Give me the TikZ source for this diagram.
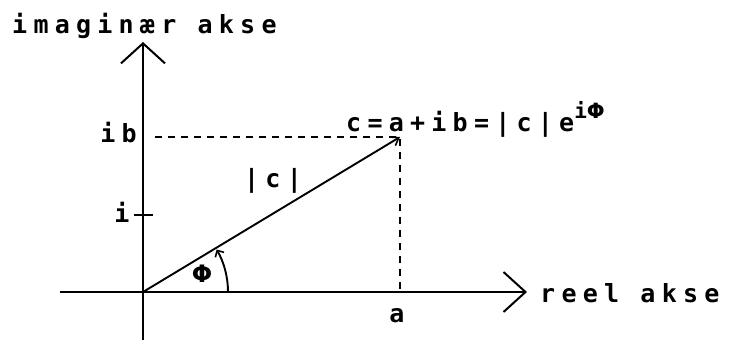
\documentclass[tikz,border=0pt]{standalone}
\usepackage{fontspec}
\newfontfamily\mono[LetterSpace=25]{DejaVu Sans Mono}
\newfontfamily\greek{DejaVu Sans}
\usetikzlibrary{arrows.meta}
\tikzset{
  axis/.style={line width=2.2pt},
  vec/.style={line width=1.9pt},
  guide/.style={line width=1.9pt, dash pattern=on 7pt off 6pt},
  lbl/.style={inner sep=0pt, font=\fontsize{25}{25}\selectfont\mono\bfseries},
}
\begin{document}
\begin{tikzpicture}[x=1pt,y=-1pt]
\useasboundingbox (0,0) rectangle (729,346);
\coordinate (O) at (143,292);
\coordinate (top) at (143,42);
\coordinate (bot) at (143,340);
\coordinate (left) at (60,292);
\coordinate (right) at (527,292);
\coordinate (C) at (400,137);
\coordinate (A) at (400,292);
\coordinate (B) at (155,137);
\coordinate (t1) at (134,215);
\coordinate (t2) at (153,215);
\coordinate (arcstart) at (228,292);
% axes
\draw[axis,-{Straight Barb[length=20pt,width=44pt,line width=2pt]}] (bot) -- (top);
\draw[axis,-{Straight Barb[length=22pt,width=40pt,line width=2pt]}] (left) -- (right);
\draw[axis] (t1) -- (t2);
% dashed guides
\draw[guide] (B) -- (C) -- (A);
% vector
\draw[vec,-{Straight Barb[length=7pt,width=10pt,line width=1.6pt]}] (O) -- (C);
% angle
\draw[vec,-{Straight Barb[length=5pt,width=10pt,line width=1.6pt]}] (arcstart) arc[start angle=0,end angle=-30,radius=85];
% labels
\node[lbl,anchor=base west] (im) at (12,33) {imaginær akse};
\node[lbl,anchor=base west] (re) at (540,302) {reel akse};
\node[lbl,anchor=base east] (ib) at (137,142) {ib};
\node[lbl,anchor=base] (i) at (122,222) {i};
\node[lbl,anchor=base] (a) at (397,322) {a};
\node[lbl] (absc) at (273,181) {|c|};
\node[lbl,font=\fontsize{24}{24}\selectfont\greek\bfseries] (phi) at (202,274) {Φ};
\node[lbl,anchor=base west] (c) at (346,131) {c=a+ib=|c|e\raisebox{13pt}{\fontsize{21}{21}\selectfont\mono\bfseries i\greek Φ}};
\end{tikzpicture}
\end{document}
